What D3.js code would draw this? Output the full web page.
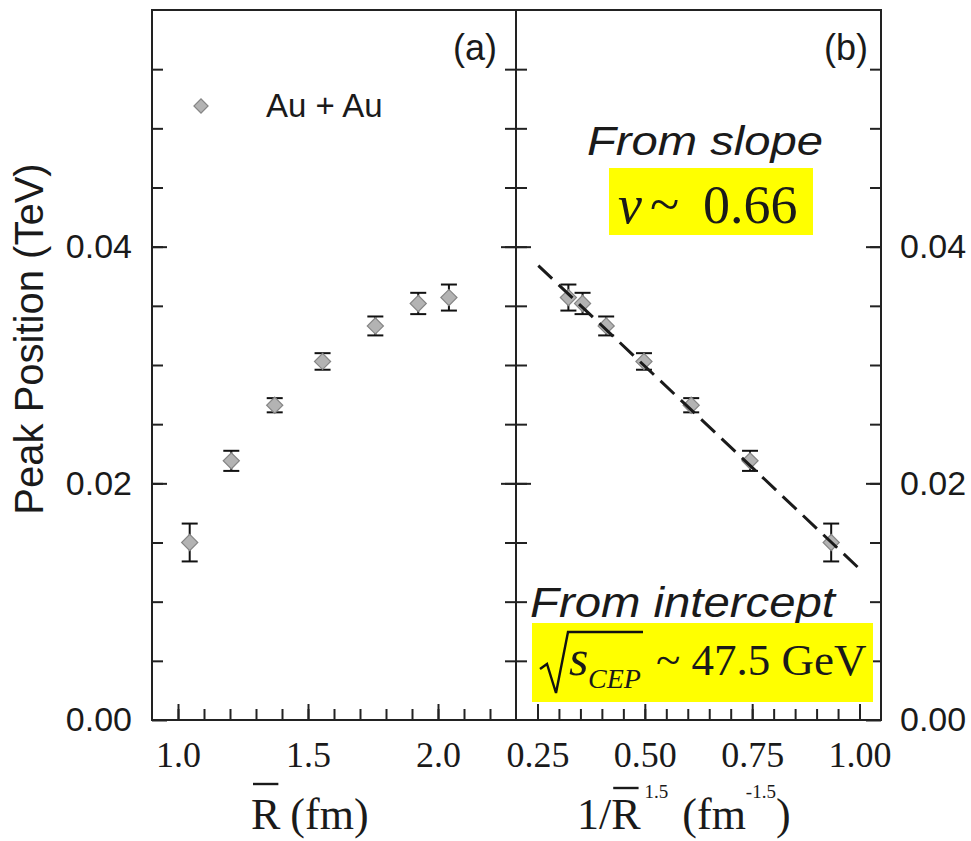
<!DOCTYPE html>
<meta charset="utf-8">
<style>
    body { margin: 0; background: #fff; }
    svg { background: #fff; }
    text { fill: #1a1a1a; }
    .sans { font-family: "Liberation Sans", Arial, sans-serif; }
    .serif { font-family: "Liberation Serif", "Times New Roman", serif; }
    .tick line { stroke: #222; stroke-width: 2px; }
    .frame { fill: none; stroke: #222; stroke-width: 2px; }
    .err line { stroke: #111; stroke-width: 2px; }
    .pt { fill: #b3b3b3; stroke: #858585; stroke-width: 1.2px; }
</style>
<svg width="971" height="841"></svg>
<script src="https://d3js.org/d3.v7.min.js"></script>
<script>
    // panel (a): mean radius R (fm)
    var rBar = [1.045, 1.205, 1.372, 1.556, 1.759, 1.924, 2.042];
    // panel (b): 1/R^1.5 (fm^-1.5), same points in the same order
    var invR = [0.934, 0.745, 0.608, 0.498, 0.410, 0.355, 0.322];
    // peak position (TeV) and its error
    var peak = [0.0150, 0.0219, 0.0266, 0.0303, 0.0333, 0.0352, 0.0357];
    var peakErr = [0.0016, 0.00085, 0.0006, 0.0007, 0.0008, 0.0009, 0.0011];
    // dashed straight-line fit in (b), its two ends
    var fitX = [0.252, 1.002];
    var fitY = [0.0384, 0.0127];

    // tick labels
    var xTicksA = [1.0, 1.5, 2.0];
    var xTicksB = [0.25, 0.50, 0.75, 1.00];
    var yTicks = [0.00, 0.02, 0.04];

    var svg = d3.select("svg");

    var plotTop = 10, plotBottom = 720;
    var y = d3.scaleLinear().domain([0, 0.06]).range([plotBottom, plotTop]);
    var xA = d3.scaleLinear().domain([0.9, 2.3]).range([152, 516]);
    var xB = d3.scaleLinear().domain([0.2, 1.05]).range([516, 881]);

    var minorA = d3.range(10, 23).map(function (d) { return d / 10; });
    var minorB = d3.range(5, 21).map(function (d) { return d / 20; });
    var minorY = d3.range(1, 12).map(function (d) { return d * 0.005; });

    function addAxis(axis, tx, ty) {
        var g = svg.append("g")
            .attr("transform", "translate(" + tx + "," + ty + ")")
            .call(axis)
            .attr("font-size", null)
            .attr("font-family", null);
        g.select(".domain").remove();
        return g;
    }

    // bottom ticks
    addAxis(d3.axisBottom(xA).tickValues(minorA).tickSize(-11).tickFormat(""), 0, plotBottom);
    addAxis(d3.axisBottom(xA).tickValues(xTicksA).tickSize(-16).tickPadding(21)
        .tickFormat(d3.format(".1f")), 0, plotBottom)
        .selectAll("text").attr("class", "serif").style("font-size", "36px");
    addAxis(d3.axisBottom(xB).tickValues(minorB).tickSize(-11).tickFormat(""), 0, plotBottom);
    addAxis(d3.axisBottom(xB).tickValues(xTicksB).tickSize(-16).tickPadding(21)
        .tickFormat(d3.format(".2f")), 0, plotBottom)
        .selectAll("text").attr("class", "serif").style("font-size", "36px");

    // left ticks with labels
    addAxis(d3.axisLeft(y).tickValues(minorY).tickSize(-11).tickFormat(""), 152, 0);
    addAxis(d3.axisLeft(y).tickValues(yTicks).tickSize(-15).tickPadding(20)
        .tickFormat(d3.format(".2f")), 152, 0)
        .selectAll("text").attr("class", "sans").style("font-size", "34px");

    // middle divider, ticks both ways
    addAxis(d3.axisLeft(y).tickValues(minorY).tickSize(11).tickFormat(""), 516, 0);
    addAxis(d3.axisLeft(y).tickValues(yTicks.slice(1)).tickSize(15).tickFormat(""), 516, 0);
    addAxis(d3.axisRight(y).tickValues(minorY).tickSize(11).tickFormat(""), 516, 0);
    addAxis(d3.axisRight(y).tickValues(yTicks.slice(1)).tickSize(15).tickFormat(""), 516, 0);

    // right ticks with labels
    addAxis(d3.axisRight(y).tickValues(minorY).tickSize(-11).tickFormat(""), 881, 0);
    addAxis(d3.axisRight(y).tickValues(yTicks).tickSize(-15).tickPadding(19)
        .tickFormat(d3.format(".2f")), 881, 0)
        .selectAll("text").attr("class", "sans").style("font-size", "34px");

    // frames
    svg.append("rect").attr("class", "frame")
        .attr("x", xA.range()[0]).attr("y", plotTop)
        .attr("width", xA.range()[1] - xA.range()[0]).attr("height", plotBottom - plotTop);
    svg.append("rect").attr("class", "frame")
        .attr("x", xB.range()[0]).attr("y", plotTop)
        .attr("width", xB.range()[1] - xB.range()[0]).attr("height", plotBottom - plotTop);

    var diamond = d3.symbol().type(d3.symbolSquare).size(130);

    function drawPoints(xs, x) {
        var pts = xs.map(function (d, i) { return { x: d, y: peak[i], e: peakErr[i] }; });
        var err = svg.append("g").attr("class", "err")
            .selectAll("g").data(pts).enter().append("g");
        err.append("line")
            .attr("x1", function (d) { return x(d.x); })
            .attr("x2", function (d) { return x(d.x); })
            .attr("y1", function (d) { return y(d.y - d.e); })
            .attr("y2", function (d) { return y(d.y + d.e); });
        [-1, 1].forEach(function (s) {
            err.append("line")
                .attr("x1", function (d) { return x(d.x) - 8; })
                .attr("x2", function (d) { return x(d.x) + 8; })
                .attr("y1", function (d) { return y(d.y + s * d.e); })
                .attr("y2", function (d) { return y(d.y + s * d.e); });
        });
        svg.append("g").selectAll("path").data(pts).enter().append("path")
            .attr("class", "pt")
            .attr("d", diamond)
            .attr("transform", function (d) {
                return "translate(" + x(d.x) + "," + y(d.y) + ") rotate(45)";
            });
    }

    drawPoints(rBar, xA);
    drawPoints(invR, xB);

    // fit line
    var line = d3.line()
        .x(function (d) { return xB(d[0]); })
        .y(function (d) { return y(d[1]); });
    svg.append("path")
        .datum(fitX.map(function (d, i) { return [d, fitY[i]]; }))
        .attr("d", line)
        .attr("fill", "none")
        .attr("stroke", "#1a1a1a")
        .attr("stroke-width", 3)
        .attr("stroke-dasharray", "19,9");

    // panel tags and legend
    svg.append("text").attr("class", "sans").attr("x", 497).attr("y", 60)
        .attr("text-anchor", "end").style("font-size", "36px").text("(a)");
    svg.append("text").attr("class", "sans").attr("x", 868).attr("y", 60)
        .attr("text-anchor", "end").style("font-size", "36px").text("(b)");
    svg.append("path").attr("class", "pt")
        .attr("d", d3.symbol().type(d3.symbolSquare).size(100))
        .attr("transform", "translate(201,106) rotate(45)");
    svg.append("text").attr("class", "sans").attr("x", 266).attr("y", 117)
        .style("font-size", "33px").text("Au + Au");

    // y axis title
    svg.append("text").attr("class", "sans")
        .attr("transform", "translate(43,339) rotate(-90)")
        .attr("text-anchor", "middle")
        .style("font-size", "40px")
        .text("Peak Position (TeV)");

    // x axis titles
    var t1 = svg.append("text").attr("class", "serif")
        .attr("x", 251).attr("y", 829).style("font-size", "44px");
    t1.append("tspan").text("R");
    t1.append("tspan").attr("dx", 10).text("(fm)");

    var t2 = svg.append("text").attr("class", "serif")
        .attr("x", 577).attr("y", 829).style("font-size", "44px");
    t2.append("tspan").text("1/R");
    t2.append("tspan").attr("dx", 4).attr("dy", -31).style("font-size", "19px").text("1.5");
    t2.append("tspan").attr("dx", 14).attr("dy", 31).text("(fm");
    t2.append("tspan").attr("dy", -31).style("font-size", "19px").text("-1.5");
    t2.append("tspan").attr("dy", 31).text(")");

    function overbar(t, idx, yy) {
        var b = t.node().getExtentOfChar(idx);
        svg.append("line")
            .attr("x1", b.x + 2).attr("x2", b.x + b.width - 2)
            .attr("y1", yy).attr("y2", yy)
            .attr("stroke", "#1a1a1a").attr("stroke-width", 2.4);
    }
    overbar(t1, 0, 784);
    overbar(t2, 2, 788);

    // annotations
    svg.append("text").attr("class", "sans")
        .attr("x", 587).attr("y", 155)
        .attr("textLength", 236).attr("lengthAdjust", "spacingAndGlyphs")
        .style("font-size", "40px").style("font-style", "italic")
        .text("From slope");
    svg.append("rect").attr("x", 609).attr("y", 168).attr("width", 204).attr("height", 67)
        .attr("fill", "#ffff00");
    var nu = svg.append("text").attr("class", "serif").attr("y", 223).style("font-size", "54px");
    nu.append("tspan").attr("x", 618).style("font-style", "italic").text("\u03bd");
    nu.append("tspan").attr("x", 650).text("~");
    nu.append("tspan").attr("x", 703).text("0.66");

    svg.append("text").attr("class", "sans")
        .attr("x", 530).attr("y", 617)
        .attr("textLength", 305).attr("lengthAdjust", "spacingAndGlyphs")
        .style("font-size", "42px").style("font-style", "italic")
        .text("From intercept");
    svg.append("rect").attr("x", 532).attr("y", 623).attr("width", 341).attr("height", 79)
        .attr("fill", "#ffff00");
    svg.append("path")
        .attr("d", "M540,669 L547,664 L556,693 L568,632 L643,632")
        .attr("fill", "none").attr("stroke", "#111").attr("stroke-width", 2.4);
    var s = svg.append("text").attr("class", "serif").attr("y", 675);
    s.append("tspan").attr("x", 569).style("font-size", "50px").style("font-style", "italic").text("s");
    s.append("tspan").attr("x", 588).attr("dy", 13).style("font-size", "28px")
        .style("font-style", "italic").text("CEP");
    s.append("tspan").attr("x", 656).attr("dy", -13).style("font-size", "45px")
        .text("~ 47.5 GeV");
</script>
